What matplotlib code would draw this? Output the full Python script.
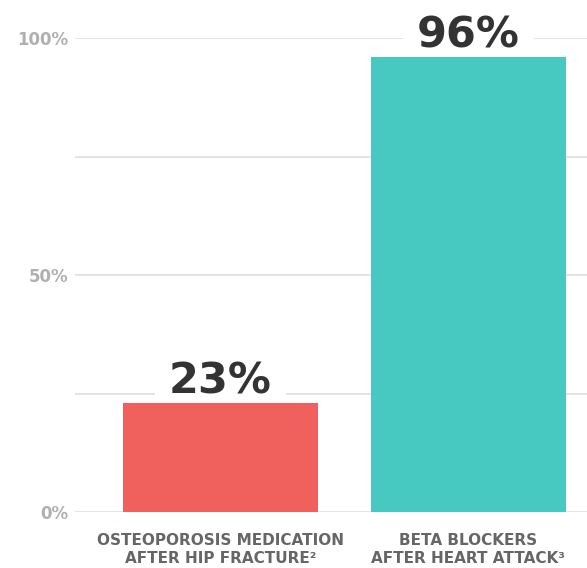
import matplotlib.pyplot as plt

# Share of patients receiving treatment
categories = ['OSTEOPOROSIS MEDICATION\nAFTER HIP FRACTURE\u00b2',
              'BETA BLOCKERS\nAFTER HEART ATTACK\u00b3']
values = [23, 96]
bar_colors = ['#F0605D', '#47C9C2']
major_ticks = [0, 50, 100]
major_labels = ['0%', '50%', '100%']
minor_ticks = [25, 75]

plt.rcParams['font.family'] = ['DejaVu Sans']

fig = plt.figure(figsize=(5.87, 5.68), dpi=100)
ax = fig.add_axes([75 / 587, 56 / 568, 512 / 587, 474 / 568])

x = list(range(len(values)))
ax.bar(x, values, width=0.786, color=bar_colors, zorder=3)

for xi, v in zip(x, values):
    ax.text(xi, v + 2.1, f'{v}%', ha='center', va='baseline',
            fontsize=31, fontweight='bold', color='#333333',
            bbox=dict(facecolor='white', edgecolor='none', pad=10),
            zorder=2.5, clip_on=False)

ax.set_xlim(-0.587, 1.478)
ax.set_ylim(0, 100)

ax.set_yticks(major_ticks)
ax.set_yticklabels(major_labels, fontsize=12, fontweight='bold', color='#b0b0b0')
ax.set_yticks(minor_ticks, minor=True)
ax.grid(True, axis='y', which='both', color='#dddddd', linewidth=1.1, zorder=1)
ax.set_axisbelow(True)
ax.tick_params(axis='y', which='both', length=0, pad=5)

ax.set_xticks(x)
ax.set_xticklabels(categories, fontsize=11, fontweight='bold', color='#666666',
                   linespacing=1.25)
ax.tick_params(axis='x', length=0, pad=15)

for s in ax.spines.values():
    s.set_visible(False)

fig.savefig('out.png', dpi=100, facecolor='white')
